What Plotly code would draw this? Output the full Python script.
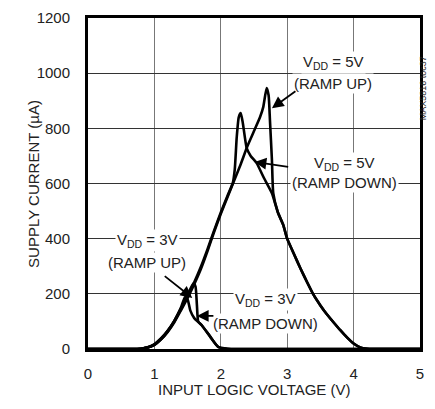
import plotly.graph_objects as go

# supply current vs input logic voltage, four sweeps
v5_up_x = [0, 0.6, 0.8, 0.9, 1.0, 1.1, 1.2, 1.3, 1.4, 1.5, 1.6, 1.7, 1.8, 1.9, 2.0, 2.1, 2.2, 2.3, 2.4, 2.5,
           2.59, 2.64, 2.69, 2.72, 2.74, 2.77, 2.79, 2.86, 2.94, 3.0, 3.1, 3.2, 3.3, 3.4, 3.5, 3.6, 3.7, 3.8,
           3.9, 4.0, 4.1, 4.2, 4.3, 5.0]
v5_up_y = [0, 0, 1, 5, 15, 35, 62, 97, 140, 185, 235, 290, 355, 425, 490, 550, 610, 670, 735, 790,
           840, 878, 946, 920, 830, 685, 565, 495, 450, 400, 345, 292, 242, 195, 158, 125, 96, 68,
           42, 20, 6, 1, 0, 0]

v5_down_x = [0, 0.6, 0.8, 0.9, 1.0, 1.1, 1.2, 1.3, 1.4, 1.5, 1.6, 1.7, 1.8, 1.9, 2.0, 2.1, 2.18, 2.21,
             2.24, 2.27, 2.3, 2.33, 2.39, 2.45, 2.54, 2.65, 2.77, 2.86, 2.94, 3.0, 3.1, 3.2, 3.3, 3.4,
             3.5, 3.6, 3.7, 3.8, 3.9, 4.0, 4.1, 4.2, 4.3, 5.0]
v5_down_y = [0, 0, 1, 6, 17, 38, 66, 102, 146, 192, 242, 298, 362, 430, 495, 555, 601, 650,
             768, 840, 855, 822, 728, 700, 674, 620, 565, 495, 450, 400, 345, 292, 242, 195,
             158, 125, 96, 68, 42, 20, 6, 1, 0, 0]

v3_up_x = [0, 0.6, 0.8, 0.9, 1.0, 1.1, 1.2, 1.3, 1.4, 1.5, 1.55, 1.59, 1.62, 1.64, 1.66, 1.71, 1.84,
           1.96, 2.1, 2.3, 5.0]
v3_up_y = [0, 0, 1, 5, 15, 35, 63, 100, 145, 195, 222, 238, 225, 160, 100, 87, 45,
           8, 1, 0, 0]

v3_down_x = [0, 0.6, 0.8, 0.9, 1.0, 1.1, 1.2, 1.3, 1.4, 1.46, 1.5, 1.54, 1.6, 1.71, 1.84, 1.96, 2.1,
             2.3, 5.0]
v3_down_y = [0, 0, 1, 6, 17, 38, 66, 102, 150, 188, 180, 140, 112, 87, 45, 8, 1,
             0, 0]

FONT = "Liberation Sans, Arial, sans-serif"
TXT = '#222'

fig = go.Figure()
for xs, ys in [(v5_up_x, v5_up_y), (v5_down_x, v5_down_y), (v3_up_x, v3_up_y), (v3_down_x, v3_down_y)]:
    fig.add_trace(go.Scatter(x=xs, y=ys, mode='lines',
                             line=dict(color='black', width=2.6, shape='spline', smoothing=0.5),
                             showlegend=False, hoverinfo='skip'))

# curve labels, one annotation per line so each white box only hides the grid behind its own text
labels = [
    (3.69, 1037, "V<sub>DD</sub> = 5V"), (3.69, 961, "(RAMP UP)"),
    (3.87, 674, "V<sub>DD</sub> = 5V"), (3.87, 605, "(RAMP DOWN)"),
    (0.89, 392, "V<sub>DD</sub> = 3V"), (0.89, 315, "(RAMP UP)"),
    (2.67, 178, "V<sub>DD</sub> = 3V"), (2.67, 94, "(RAMP DOWN)"),
]
for x, y, t in labels:
    fig.add_annotation(x=x, y=y, text=t, showarrow=False, bgcolor='white', borderpad=1,
                       font=dict(family=FONT, size=15, color=TXT))

# arrows: head at the curve, tail offset in pixels
arrows = [(2.77, 873, 25, -18), (2.51, 678, 35, 5), (1.57, 185, -29, -23), (1.64, 120, 18, 0)]
for x, y, ax, ay in arrows:
    fig.add_annotation(x=x, y=y, ax=ax, ay=ay, text="", showarrow=True,
                       arrowhead=2, arrowsize=1.3, arrowwidth=1.8, arrowcolor='black')

fig.add_annotation(xref='paper', yref='paper', x=1.03, y=0.89, text="MAX5816 toc37",
                   textangle=-90, showarrow=False, font=dict(family=FONT, size=9, color=TXT))

# axis titles placed as paper annotations
fig.add_annotation(xref='paper', yref='paper', x=0.5, y=-0.154, text="INPUT LOGIC VOLTAGE (V)",
                   showarrow=False, font=dict(family=FONT, size=15, color=TXT))
fig.add_annotation(xref='paper', yref='paper', x=-0.196, y=0.5, text="SUPPLY CURRENT (µA)",
                   textangle=-90, showarrow=False, font=dict(family=FONT, size=15, color=TXT))

fig.update_xaxes(range=[0, 5], dtick=1, showgrid=True, gridcolor='#777', gridwidth=1,
                 showline=True, mirror=True, linecolor='black', linewidth=3, zeroline=False,
                 ticks='', ticklabelstandoff=9, automargin=False,
                 tickfont=dict(family=FONT, size=15, color=TXT))
fig.update_yaxes(range=[0, 1200], dtick=200, showgrid=True, gridcolor='#333', gridwidth=1,
                 showline=True, mirror=True, linecolor='black', linewidth=3, zeroline=False,
                 ticks='', ticklabelstandoff=12, automargin=False,
                 tickfont=dict(family=FONT, size=15, color=TXT))

# page body has an 8px margin, so the figure is shrunk by that much
fig.update_layout(width=427, height=401, autosize=False,
                  margin=dict(l=80, r=15, t=10, b=60),
                  plot_bgcolor='white', paper_bgcolor='white')

fig.write_html("out.html")
